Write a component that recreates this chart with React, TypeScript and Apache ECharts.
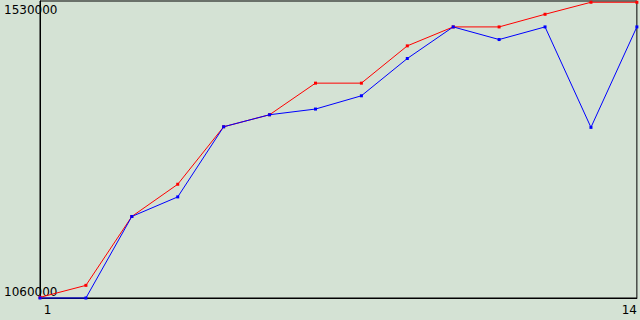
import React, { useEffect, useRef } from "react";
import * as echarts from "echarts";

const categories = ["1", "2", "3", "4", "5", "6", "7", "8", "9", "10", "11", "12", "13", "14"];
const redValues = [1061000, 1080000, 1189000, 1240000, 1331000, 1350000, 1400000, 1400000, 1459000, 1489000, 1489000, 1509000, 1528000, 1528000];
const blueValues = [1060000, 1060000, 1189000, 1220000, 1331000, 1350000, 1359000, 1380000, 1439000, 1489000, 1469000, 1489000, 1330000, 1489000];
const yMin = 1060000;
const yMax = 1530000;
const yTickLabels = [yMin, yMax];

export default function App() {
  const ref = useRef<HTMLDivElement>(null);
  useEffect(() => {
    document.body.style.margin = "0";
    const chart = echarts.init(ref.current!, null, { renderer: "svg" });
    const font = "DejaVu Sans";
    chart.setOption({
      animation: false,
      backgroundColor: "#d4e2d4",
      textStyle: { fontFamily: font },
      grid: {
        left: 40,
        right: 1,
        top: 1,
        bottom: 22,
        show: true,
        borderColor: "#000",
        borderWidth: 1,
        backgroundColor: "transparent",
      },
      xAxis: {
        type: "category",
        data: categories,
        boundaryGap: false,
        axisLine: { show: true, lineStyle: { color: "#000", width: 1 } },
        axisTick: { show: false },
        splitLine: { show: false },
        axisLabel: {
          interval: (i: number) => i === 0 || i === categories.length - 1,
          margin: 6,
          color: "#000",
          fontSize: 12,
          fontFamily: font,
          formatter: (v: string, i: number) => (i === 0 ? "{l|" + v + "}" : "{r|" + v + "}"),
          rich: {
            l: { fontSize: 12, fontFamily: font, color: "#000", padding: [0, 0, 0, 15] },
            r: { fontSize: 12, fontFamily: font, color: "#000", padding: [0, 15, 0, 0] },
          },
        },
      },
      yAxis: {
        type: "value",
        min: yMin,
        max: yMax,
        axisLine: { show: true, lineStyle: { color: "#000", width: 1 } },
        axisTick: { show: false },
        splitLine: { show: false },
        axisLabel: {
          customValues: yTickLabels,
          showMinLabel: true,
          showMaxLabel: true,
          align: "left",
          margin: 36,
          color: "#000",
          fontSize: 12,
          fontFamily: font,
          formatter: (v: number) => (v === yMax ? "{t|" + v + "}" : "{b|" + v + "}"),
          rich: {
            t: { fontSize: 12, fontFamily: font, color: "#000", padding: [18, 0, 0, 0] },
            b: { fontSize: 12, fontFamily: font, color: "#000", padding: [0, 0, 12, 0] },
          },
        },
      },
      series: [
        {
          type: "line",
          data: redValues,
          symbol: "rect",
          symbolSize: 3,
          showAllSymbol: true,
          clip: false,
          lineStyle: { color: "#ff0000", width: 1 },
          itemStyle: { color: "#ff0000" },
        },
        {
          type: "line",
          data: blueValues,
          symbol: "rect",
          symbolSize: 3,
          showAllSymbol: true,
          clip: false,
          lineStyle: { color: "#0000ff", width: 1 },
          itemStyle: { color: "#0000ff" },
        },
      ],
    });
    return () => chart.dispose();
  }, []);
  return <div ref={ref} style={{ position: "fixed", left: 0, top: 0, width: 640, height: 320 }} />;
}
